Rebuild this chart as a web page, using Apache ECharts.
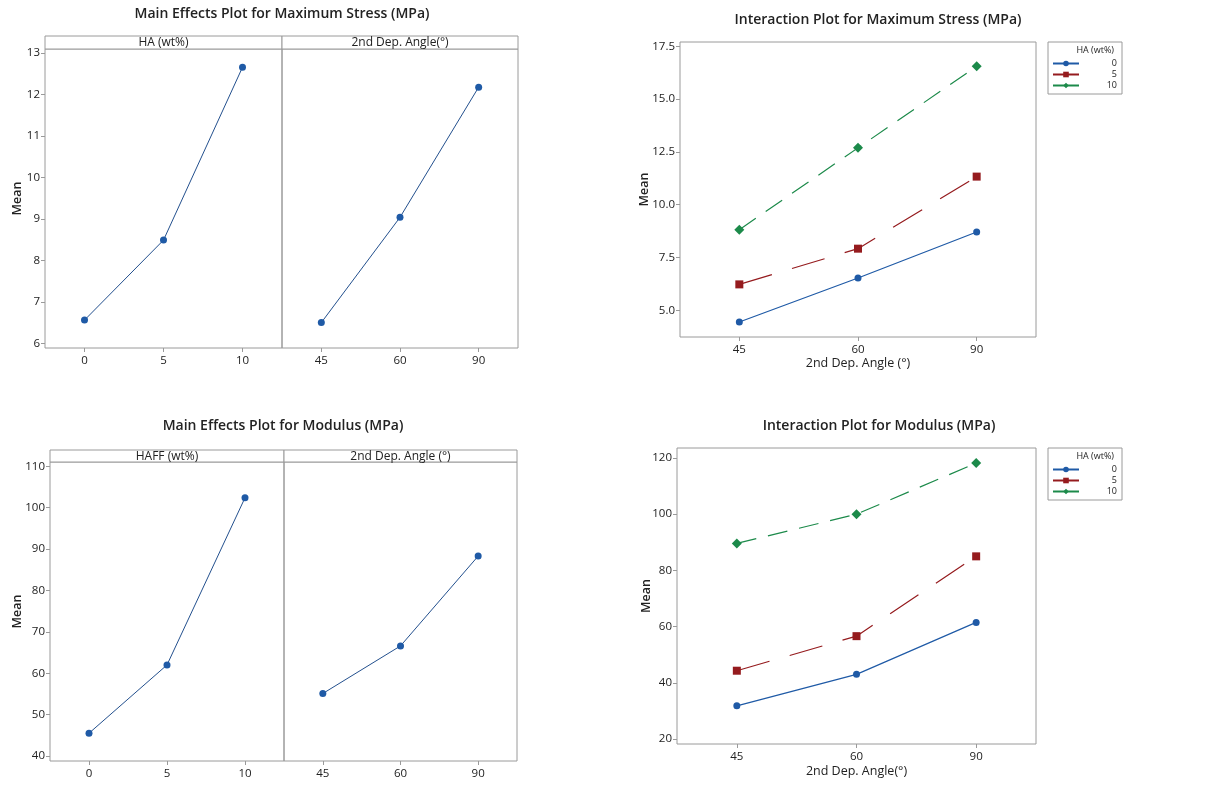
<!DOCTYPE html>
<html>
<head>
<meta charset="utf-8">
<script src="https://cdn.jsdelivr.net/npm/echarts@6/dist/echarts.min.js"></script>
<style>
  html, body { margin: 0; padding: 0; background: #fff; }
  #main { width: 1208px; height: 785px; }
</style>
</head>
<body>
<div id="main"></div>
<script>
// categories
const haLevels = ['0', '5', '10'];
const angleLevels = ['45', '60', '90'];

// main effects: maximum stress
const stressByHA = [6.56, 8.49, 12.66];
const stressByAngle = [6.50, 9.04, 12.18];
// main effects: modulus
const modulusByHA = [45.5, 62.0, 102.4];
const modulusByAngle = [55.1, 66.6, 88.3];

// interaction: maximum stress (per HA level, over angle)
const stressHA0 = [4.45, 6.53, 8.71];
const stressHA5 = [6.23, 7.92, 11.33];
const stressHA10 = [8.82, 12.69, 16.55];
// interaction: modulus
const modulusHA0 = [31.8, 43.0, 61.5];
const modulusHA5 = [44.3, 56.6, 85.0];
const modulusHA10 = [89.6, 100.0, 118.2];

// tick labels
const stressMainTicks = [6, 7, 8, 9, 10, 11, 12, 13];
const modulusMainTicks = [40, 50, 60, 70, 80, 90, 100, 110];
const stressInterTicks = [5, 7.5, 10, 12.5, 15, 17.5];
const modulusInterTicks = [20, 40, 60, 80, 100, 120];

const FONT = '"Open Sans", "Noto Sans", sans-serif';
const frameColor = '#9a9a9a';
const blue = '#1f5aa6', red = '#951b1e', green = '#1c8a4a';

let chartDom = document.getElementById('main');
let myChart = echarts.init(chartDom, null, { renderer: 'canvas' });

function grid(l, t, w, h) {
    return { left: l, top: t, width: w, height: h, show: true, borderColor: frameColor, borderWidth: 1, backgroundColor: 'transparent' };
}

function catAxis(gridIndex, data, name, nameGap) {
    return {
        type: 'category', gridIndex: gridIndex, data: data, boundaryGap: true,
        axisLine: { show: false },
        axisTick: { show: true, alignWithLabel: true, length: 4, lineStyle: { color: frameColor } },
        axisLabel: { color: '#222', fontSize: 11.5, fontFamily: FONT, margin: 7 },
        name: name || '', nameLocation: 'middle', nameGap: nameGap || 20, nameMoveOverlap: false,
        nameTextStyle: { color: '#222', fontSize: 12.5, fontFamily: FONT }
    };
}

function valAxis(gridIndex, min, max, ticks, showLabels, fmt, nameGap) {
    return {
        type: 'value', gridIndex: gridIndex, min: min, max: max,
        splitLine: { show: false },
        axisLine: { show: false },
        axisTick: { show: showLabels, length: 4, customValues: ticks, lineStyle: { color: frameColor } },
        axisLabel: { show: showLabels, customValues: ticks, color: '#222', fontSize: 11.5, fontFamily: FONT, margin: 5, formatter: fmt },
        name: showLabels ? 'Mean' : '', nameLocation: 'middle', nameGap: nameGap || 24, nameMoveOverlap: false,
        nameTextStyle: { color: '#222', fontSize: 12.5, fontWeight: 600, fontFamily: FONT }
    };
}

function mainLine(idx, data) {
    return {
        type: 'line', xAxisIndex: idx, yAxisIndex: idx, data: data,
        symbol: 'circle', symbolSize: 7,
        itemStyle: { color: blue },
        lineStyle: { color: '#23508e', width: 1 },
        silent: true, animation: false
    };
}

function interLine(idx, name, data, color, symbol, size, dash) {
    return {
        type: 'line', name: name, xAxisIndex: idx, yAxisIndex: idx, data: data,
        symbol: symbol, symbolSize: size,
        itemStyle: { color: color },
        lineStyle: { color: color, width: 1.2, type: dash },
        animation: false
    };
}

function strip(x, y, w, h, text) {
    return [
        { type: 'rect', shape: { x: x, y: y, width: w, height: h }, style: { fill: '#fff', stroke: frameColor, lineWidth: 1 } },
        { type: 'text', x: x + w / 2, y: y + h / 2 + 0.5, style: { text: text, align: 'center', verticalAlign: 'middle', fontSize: 12, fontFamily: FONT, fill: '#222' } }
    ];
}

function titleAt(x, y, text) {
    return { text: text, left: x, top: y, textAlign: 'center',
        textStyle: { fontSize: 14, fontWeight: 600, color: '#222', fontFamily: FONT }, padding: 0 };
}

let legendBase = {
    orient: 'vertical', left: 1048, itemWidth: 26, itemHeight: 7, itemGap: 2,
    borderColor: frameColor, borderWidth: 1, padding: [17, 5, 4, 4],
    lineStyle: { type: 'solid' },
    formatter: '{a|{name}}',
    textStyle: { fontSize: 9, color: '#222', fontFamily: FONT,
        rich: { a: { width: 33, align: 'right', fontSize: 9, fontFamily: FONT, color: '#222' } } },
    selectedMode: false, data: haLevels
};

let option = {
    backgroundColor: '#fff',
    animation: false,
    title: [
        titleAt(282, 7, 'Main Effects Plot for Maximum Stress (MPa)'),
        titleAt(878, 13, 'Interaction Plot for Maximum Stress (MPa)'),
        titleAt(283, 419, 'Main Effects Plot for Modulus (MPa)'),
        titleAt(879, 419, 'Interaction Plot for Modulus (MPa)'),
        { text: 'HA (wt%)', right: 94, top: 46, textStyle: { fontSize: 9, fontWeight: 'normal', color: '#222', fontFamily: FONT }, padding: 0 },
        { text: 'HA (wt%)', right: 94, top: 452, textStyle: { fontSize: 9, fontWeight: 'normal', color: '#222', fontFamily: FONT }, padding: 0 }
    ],
    legend: [
        Object.assign({}, legendBase, { top: 42 }),
        Object.assign({}, legendBase, { top: 448 })
    ],
    grid: [
        grid(45, 49, 237, 299),
        grid(282, 49, 236, 299),
        grid(50, 462, 234, 299),
        grid(284, 462, 233, 299),
        grid(680, 42, 356, 295),
        grid(677, 448, 359, 296)
    ],
    xAxis: [
        catAxis(0, haLevels),
        catAxis(1, angleLevels),
        catAxis(2, haLevels),
        catAxis(3, angleLevels),
        catAxis(4, angleLevels, '2nd Dep. Angle (°)', 20),
        catAxis(5, angleLevels, '2nd Dep. Angle(°)', 21)
    ],
    yAxis: [
        valAxis(0, 5.887, 13.10, stressMainTicks, true, v => String(v), 21),
        valAxis(1, 5.887, 13.10, stressMainTicks, false),
        valAxis(2, 38.79, 111.04, modulusMainTicks, true, v => String(v), 26),
        valAxis(3, 38.79, 111.04, modulusMainTicks, false),
        valAxis(4, 3.74, 17.70, stressInterTicks, true, v => v.toFixed(1), 29),
        valAxis(5, 18.22, 123.56, modulusInterTicks, true, v => String(v), 24)
    ],
    series: [
        mainLine(0, stressByHA),
        mainLine(1, stressByAngle),
        mainLine(2, modulusByHA),
        mainLine(3, modulusByAngle),
        interLine(4, '0', stressHA0, blue, 'circle', 7, 'solid'),
        interLine(4, '5', stressHA5, red, 'rect', 8, [34, 21]),
        interLine(4, '10', stressHA10, green, 'diamond', 10, [20, 12]),
        interLine(5, '0', modulusHA0, blue, 'circle', 7, 'solid'),
        interLine(5, '5', modulusHA5, red, 'rect', 8, [34, 21]),
        interLine(5, '10', modulusHA10, green, 'diamond', 10, [20, 12])
    ],
    graphic: [].concat(
        strip(45, 36, 237, 13, 'HA (wt%)'),
        strip(282, 36, 236, 13, '2nd Dep. Angle(°)'),
        strip(50, 450, 234, 12, 'HAFF (wt%)'),
        strip(284, 450, 233, 12, '2nd Dep. Angle (°)')
    )
};

option && myChart.setOption(option);
</script>
</body>
</html>
